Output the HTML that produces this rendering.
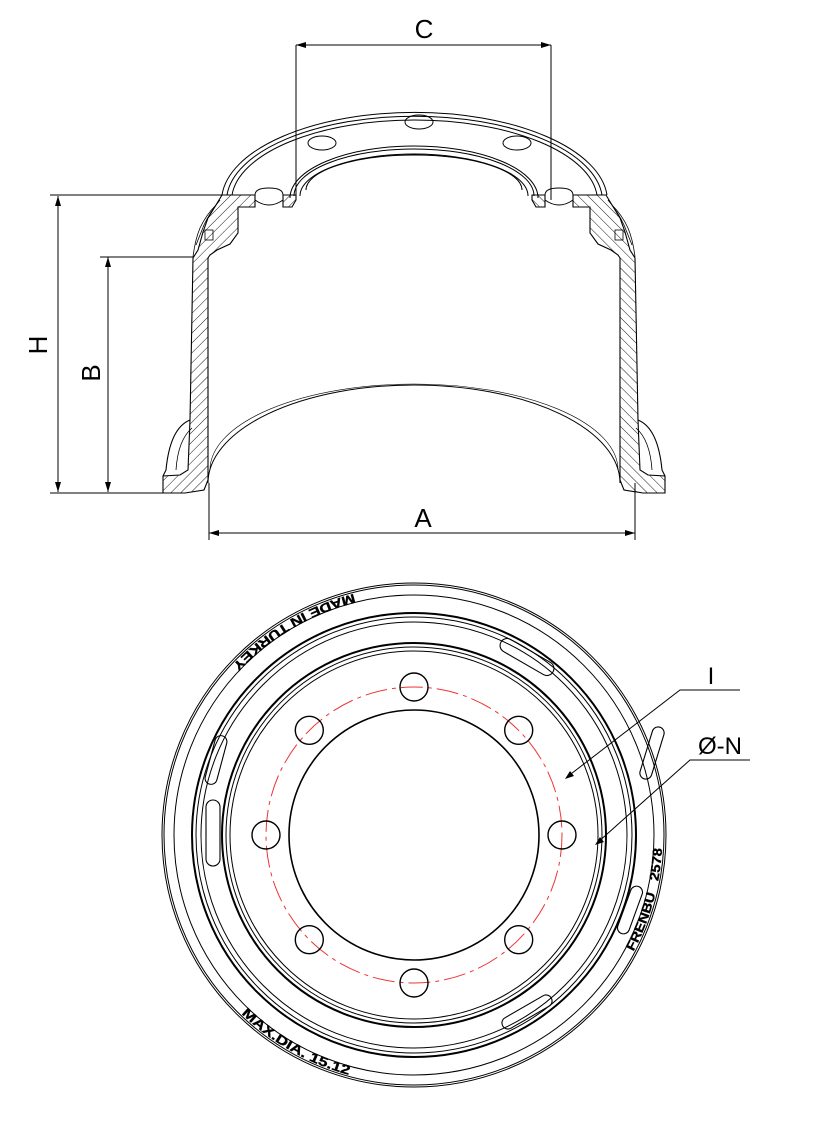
<!DOCTYPE html>
<html><head><meta charset="utf-8"><style>
html,body{margin:0;padding:0;background:#fff;}
svg{display:block;}
text{font-family:"Liberation Sans",sans-serif;}
</style></head><body>
<svg width="813" height="1125" viewBox="0 0 813 1125" xmlns="http://www.w3.org/2000/svg">
<defs>
<pattern id="h" patternUnits="userSpaceOnUse" width="7" height="7" patternTransform="rotate(45)">
<line x1="0" y1="0" x2="0" y2="7" stroke="#000" stroke-width="0.9"/>
</pattern>
<g id="half">
<path d="M222,195 L255,195 L255,207 L238,207 L238,233 L230,244 L217,250 L210,255 L208,258 L208,480 L204,490 L185,493 L163,493 L163,476 L180,475 L188,470 L190,420 L193,258 L198,250 L203,232 L208,218 L216,205 Z" fill="url(#h)" stroke="#000" stroke-width="1.1"/>
<path d="M283,195 L296,195 L296,200 L292,207 L283,207 Z" fill="url(#h)" stroke="#000" stroke-width="1.1"/>
<path d="M255,195 Q255,188 269,188 Q283,188 283,195 M255,195 L255,200 Q269,210 283,200 L283,195" fill="none" stroke="#000" stroke-width="1"/>
<path d="M190,420 Q170,428 166,470 L163,476" fill="none" stroke="#000" stroke-width="1.1"/>
<path d="M192,428 Q178,440 176,470" fill="none" stroke="#000" stroke-width="0.8"/>
<path d="M216,205 Q206,215 200,228 Q195,240 193,257" fill="none" stroke="#000" stroke-width="0.8"/>
<path d="M220,200 Q210,212 204,225 L196,245" fill="none" stroke="#000" stroke-width="0.8"/>
<rect x="205" y="230" width="8" height="10" fill="none" stroke="#000" stroke-width="0.8"/>
</g>
</defs>

<g stroke="#000" stroke-width="1" fill="none">
<line x1="296" y1="45" x2="551" y2="45"/>
<line x1="296" y1="45" x2="296" y2="200"/>
<line x1="551" y1="45" x2="551" y2="200"/>
<line x1="58" y1="196" x2="58" y2="492"/>
<line x1="50" y1="195" x2="222" y2="195"/>
<line x1="108" y1="257" x2="108" y2="492"/>
<line x1="100" y1="257" x2="193" y2="257"/>
<line x1="50" y1="493" x2="163" y2="493"/>
<line x1="209" y1="533" x2="635" y2="533"/>
<line x1="209" y1="483" x2="209" y2="540"/>
<line x1="635" y1="483" x2="635" y2="540"/>
</g>
<g fill="#000">
<path d="M296,45 l10,-3 v6z M551,45 l-10,-3 v6z"/>
<path d="M58,196 l-3,10 h6z M58,492 l-3,-10 h6z"/>
<path d="M108,257 l-3,10 h6z M108,492 l-3,-10 h6z"/>
<path d="M209,533 l10,-3 v6z M635,533 l-10,-3 v6z"/>
</g>
<text x="424" y="38" font-size="26" text-anchor="middle">C</text>
<text x="423" y="527" font-size="26" text-anchor="middle">A</text>
<text transform="translate(47,345) rotate(-90)" font-size="26" text-anchor="middle">H</text>
<text transform="translate(100,373) rotate(-90)" font-size="26" text-anchor="middle">B</text>

<g stroke="#000" fill="none" stroke-width="1">
<path d="M222,195 A193,89 0 0 1 607,195"/>
<path d="M227,195 A188,85 0 0 1 602,195"/>
<path d="M232,195 A183,81 0 0 1 597,195"/>
<path d="M290,198 A124,52 0 0 1 538,198"/>
<path d="M294,196 A120,47 0 0 1 534,196"/>
<path d="M300,196 A114,42 0 0 1 528,196"/>
<path d="M306,190 A108,35 0 0 1 522,190"/>
<ellipse cx="419" cy="122" rx="14" ry="7"/>
<ellipse cx="322" cy="143" rx="14" ry="7"/>
<ellipse cx="517" cy="143" rx="14" ry="7"/>
<path d="M208,483 A206,98 0 0 1 620,483"/>
<path d="M210,470 A204,86 0 0 1 618,470" stroke-width="0.6"/>
</g>
<use href="#half"/>
<use href="#half" transform="translate(828,0) scale(-1,1)"/>

<g stroke="#000" fill="none" stroke-width="1">
<circle cx="414" cy="835" r="252"/>
<circle cx="414" cy="835" r="250"/>
<circle cx="414" cy="835" r="240"/>
<circle cx="414" cy="835" r="222" stroke-width="2"/>
<circle cx="414" cy="835" r="218"/>
<circle cx="414" cy="835" r="213"/>
<circle cx="414" cy="835" r="192" stroke-width="2"/>
<circle cx="414" cy="835" r="188"/>
<circle cx="414" cy="835" r="184"/>
<circle cx="414" cy="835" r="125" stroke-width="1.6"/>
<circle cx="414" cy="835" r="148" stroke="#e33" stroke-dasharray="22,5,4,5"/>
<g stroke-width="1.4">
<circle cx="414" cy="687" r="14"/>
<circle cx="518.7" cy="730.3" r="14"/>
<circle cx="562" cy="835" r="14"/>
<circle cx="518.7" cy="939.7" r="14"/>
<circle cx="414" cy="983" r="14"/>
<circle cx="309.3" cy="939.7" r="14"/>
<circle cx="266" cy="835" r="14"/>
<circle cx="309.3" cy="730.3" r="14"/>
</g>
<g stroke-width="1.1">
<rect x="-30" y="-7" width="60" height="14" rx="7" transform="translate(527,657) rotate(30)"/>
<rect x="-28" y="-6" width="56" height="12" rx="6" transform="translate(527,1012) rotate(-30)"/>
<rect x="-33" y="-7" width="66" height="14" rx="7" transform="translate(213,833) rotate(90)"/>
<rect x="-25" y="-6" width="50" height="12" rx="6" transform="translate(216,760) rotate(105)"/>
<rect x="-25" y="-6" width="50" height="12" rx="6" transform="translate(630,910) rotate(-70)"/>
<rect x="-27" y="-6" width="54" height="12" rx="6" transform="translate(652,753) rotate(-73)"/>
</g>
</g>
<path id="t1" d="M353.9,593.9 A248.5,248.5 0 0 0 223.6,675.2" fill="none"/>
<path id="t2" d="M241.3,1013.7 A248.5,248.5 0 0 0 392.3,1082.6" fill="none"/>
<path id="t3" d="M633.4,951.6 A248.5,248.5 0 0 0 661.5,813.4" fill="none"/>
<g font-size="13" font-weight="bold" stroke="#000" stroke-width="0.3">
<text><textPath href="#t1" textLength="143" lengthAdjust="spacingAndGlyphs">MADE IN TURKEY</textPath></text>
<text><textPath href="#t2" textLength="125" lengthAdjust="spacingAndGlyphs">MAX.DIA. 15.12</textPath></text>
<text><textPath href="#t3" textLength="108" lengthAdjust="spacingAndGlyphs" xml:space="preserve">FRENBU   2578</textPath></text>
</g>
<g stroke="#000" stroke-width="1" fill="none">
<polyline points="740,690 680,690 567,777"/>
<polyline points="750,760 690,760 597,843"/>
</g>
<path d="M565,779 l9,-3 l-4,-5z M595,845 l9,-3 l-4,-5z" fill="#000"/>
<text x="711" y="684" font-size="24" text-anchor="middle">I</text>
<text x="720" y="754" font-size="24" text-anchor="middle">Ø-N</text>
</svg>
</body></html>
